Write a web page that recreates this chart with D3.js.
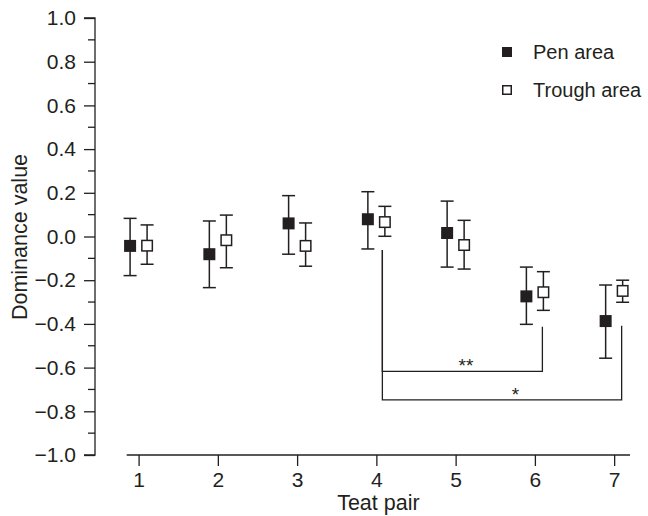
<!DOCTYPE html>
<html><head><meta charset="utf-8">
<script src="https://cdn.jsdelivr.net/npm/d3@7/dist/d3.min.js"></script>
<style>body{margin:0;background:#fff}svg text{font-family:Arial,"Liberation Sans",sans-serif;fill:#231f20}</style>
</head><body><svg id="c" width="648" height="516"></svg>
<script>
const pairs=[1,2,3,4,5,6,7];
const penMean=[-0.043,-0.081,0.060,0.079,0.016,-0.274,-0.387];
const penHigh=[0.083,0.071,0.187,0.205,0.162,-0.140,-0.222];
const penLow=[-0.179,-0.234,-0.081,-0.057,-0.140,-0.402,-0.557];
const troughMean=[-0.042,-0.017,-0.043,0.066,-0.039,-0.255,-0.249];
const troughHigh=[0.053,0.098,0.062,0.138,0.074,-0.161,-0.200];
const troughLow=[-0.127,-0.143,-0.136,0.001,-0.149,-0.338,-0.301];
const yTicks=[-1.0,-0.8,-0.6,-0.4,-0.2,0.0,0.2,0.4,0.6,0.8,1.0];
const yMinor=[-0.9,-0.7,-0.5,-0.3,-0.1,0.1,0.3,0.5,0.7,0.9];
const legendLabels=["Pen area","Trough area"];
// significance brackets: from pair, to pair, horizontal level, top of left leg, top of right leg, label, label position (pair units)
const brFrom=[4,4], brTo=[6,7], brLevel=[-0.617,-0.748], brLeftTop=[-0.062,-0.062], brRightTop=[-0.413,-0.408], brLabel=["**","*"], brLabelAt=[5.13,5.755];

const ink="#231f20";
const FONT="Arial,'Liberation Sans',sans-serif";
const svg=d3.select("#c");
const y=d3.scaleLinear().domain([-1,1]).range([455,18]);
const x=d3.scaleLinear().domain([0.85,7.2]).range([126.7,630]);
const off=8.5;

// y axis
const ya=svg.append("g").attr("transform","translate(95,0)");
ya.call(d3.axisLeft(y).tickValues(yTicks).tickSize(11).tickPadding(8).tickFormat(d=>(d<0?"\u2212":"")+Math.abs(d).toFixed(1)));
ya.selectAll(".domain").attr("d","M-11,"+y(1)+"H0V"+y(-1)+"H-11");
ya.selectAll("path,line").attr("stroke",ink).attr("stroke-width",1.3);
ya.selectAll("text").attr("font-size",21).attr("fill",ink).style("font-family",FONT);
ya.selectAll(".minor").data(yMinor).enter().append("line").attr("x1",-7).attr("x2",0).attr("y1",d=>y(d)).attr("y2",d=>y(d)).attr("stroke",ink).attr("stroke-width",1.3);

// x axis
const xa=svg.append("g").attr("transform","translate(0,455)");
xa.call(d3.axisBottom(x).tickValues(pairs).tickSize(11).tickPadding(6).tickFormat(d3.format("d")));
xa.selectAll(".domain").attr("d","M126.7,0H630");
xa.selectAll("path,line").attr("stroke",ink).attr("stroke-width",1.3);
xa.selectAll("text").attr("font-size",21).attr("fill",ink).style("font-family",FONT);

svg.append("text").attr("x",x(4)+2).attr("y",510).attr("text-anchor","middle").attr("font-size",21.5).text("Teat pair");
svg.append("text").attr("transform","translate(27,237) rotate(-90)").attr("text-anchor","middle").attr("font-size",21.5).text("Dominance value");

// error bars + markers
function series(mean,hi,lo,dx,filled){
  const g=svg.append("g");
  pairs.forEach((p,i)=>{
    const cx=x(p)+dx;
    g.append("line").attr("x1",cx).attr("x2",cx).attr("y1",y(hi[i])).attr("y2",y(lo[i])).attr("stroke",ink).attr("stroke-width",1.5);
    [hi[i],lo[i]].forEach(v=>g.append("line").attr("x1",cx-6.5).attr("x2",cx+6.5).attr("y1",y(v)).attr("y2",y(v)).attr("stroke",ink).attr("stroke-width",1.5));
    if(filled) g.append("rect").attr("x",cx-6).attr("y",y(mean[i])-6).attr("width",12).attr("height",12).attr("fill",ink);
    else g.append("rect").attr("x",cx-5.25).attr("y",y(mean[i])-5.25).attr("width",10.5).attr("height",10.5).attr("fill","#fff").attr("stroke",ink).attr("stroke-width",1.5);
  });
}
series(penMean,penHigh,penLow,-off,true);
series(troughMean,troughHigh,troughLow,off,false);

// brackets
brFrom.forEach((f,i)=>{
  const x1=x(f)+6, x2=x(brTo[i])+7.5;
  const path=d3.path();
  path.moveTo(x1,y(brLeftTop[i])); path.lineTo(x1,y(brLevel[i])); path.lineTo(x2,y(brLevel[i])); path.lineTo(x2,y(brRightTop[i]));
  svg.append("path").attr("d",path.toString()).attr("fill","none").attr("stroke",ink).attr("stroke-width",1.3);
  svg.append("text").attr("x",x(brLabelAt[i])).attr("y",y(brLevel[i])+1).attr("text-anchor","middle").attr("font-size",19).text(brLabel[i]);
});

// legend
const lg=svg.append("g");
legendLabels.forEach((t,i)=>{
  const cy=52+i*38;
  if(i==0) lg.append("rect").attr("x",502).attr("y",cy-5).attr("width",10).attr("height",10).attr("fill",ink);
  else lg.append("rect").attr("x",502.75).attr("y",cy-4.25).attr("width",8.5).attr("height",8.5).attr("fill","#fff").attr("stroke",ink).attr("stroke-width",1.5);
  lg.append("text").attr("x",533).attr("y",cy+7).attr("font-size",20).text(t);
});
</script></body></html>
